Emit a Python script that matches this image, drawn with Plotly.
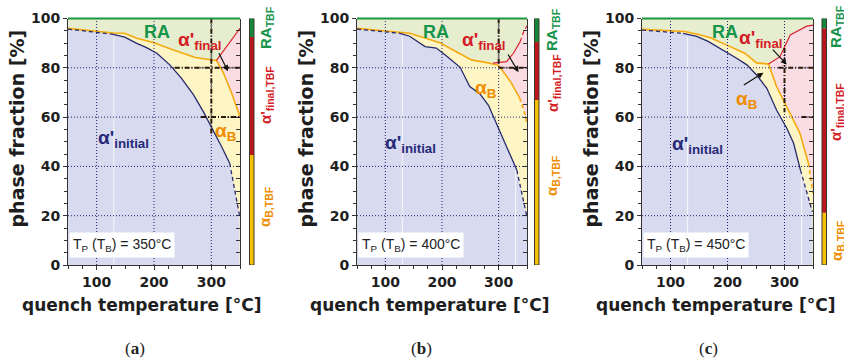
import numpy as np
import plotly.graph_objects as go

# ---------------- data ----------------
X_RANGE = [50, 350]
Y_RANGE = [0, 100]
X_TICKS = [100, 200, 300]
Y_TICKS = [0, 20, 40, 60, 80, 100]
GRID_X = [100, 200, 300]
GRID_Y = [20, 40, 60, 80]
TP_TB = [350, 400, 450]
PANEL_TAGS = ["a", "b", "c"]

# alpha'_initial boundary (navy)
navy_x_a = [50, 129, 149, 170, 187, 205, 228, 248, 269, 286, 303, 318, 332, 349]
navy_y_a = [95.7, 93.6, 92.4, 89.9, 88.2, 85.9, 81.1, 75.7, 69.0, 62.2, 54.8, 48.0, 41.3, 20.3]
navy_x_b = [50, 126, 143, 170, 190, 208, 232, 249, 267, 282, 296, 314, 332, 350]
navy_y_b = [95.7, 94.0, 92.8, 88.6, 88.0, 84.8, 80.2, 72.4, 69.4, 64.8, 57.4, 48.5, 38.5, 19.5]
navy_x_c = [50, 122, 146, 166, 193, 216, 234, 251, 269, 286, 304, 316, 328, 349]
navy_y_c = [95.3, 94.0, 92.7, 90.7, 87.2, 83.9, 81.2, 77.1, 71.7, 62.9, 55.5, 49.4, 38.5, 21.5]

# alpha_B upper boundary (orange)
orange_x_a = [50, 129, 149, 170, 199, 234, 272, 309, 320, 335, 350]
orange_y_a = [96.0, 94.1, 94.0, 92.0, 90.3, 87.2, 84.2, 83.0, 78.5, 70.0, 60.2]
orange_x_b = [50, 126, 143, 173, 196, 226, 252, 279, 300, 322, 337, 346, 350]
orange_y_b = [96.0, 94.5, 94.0, 91.9, 90.2, 86.4, 83.2, 82.1, 81.0, 74.0, 67.8, 61.5, 57.0]
orange_x_c = [50, 125, 146, 169, 199, 231, 251, 272, 286, 304, 327, 342, 350]
orange_y_c = [95.6, 94.7, 93.7, 92.3, 89.2, 85.8, 82.0, 81.5, 72.4, 64.3, 53.5, 41.3, 29.0]

# alpha'_final upper boundary (red)
red_x_a = [309, 326, 338, 350]
red_y_a = [83.0, 88.5, 92.5, 96.0]
red_x_b = [290, 314, 326, 338, 344, 350]
red_y_b = [81.9, 82.5, 85.9, 90.6, 94.6, 97.0]
red_x_c = [272, 292, 310, 339, 350]
red_y_c = [81.5, 84.5, 93.3, 96.9, 97.3]

# phase fractions after full bainitic transformation (side bars)
TBF_ALPHA_B = [44.6, 66.9, 21.2]
TBF_ALPHA_FINAL = [47.9, 23.6, 74.8]
TBF_RA = [7.5, 9.5, 4.0]

NAVY = [(navy_x_a, navy_y_a), (navy_x_b, navy_y_b), (navy_x_c, navy_y_c)]
ORANGE = [(orange_x_a, orange_y_a), (orange_x_b, orange_y_b), (orange_x_c, orange_y_c)]
RED = [(red_x_a, red_y_a), (red_x_b, red_y_b), (red_x_c, red_y_c)]

# ---------------- styles / layout geometry ----------------
W, H = 844, 359
PLOT_X_PX = [(68, 240), (357, 527), (642, 813)]
PLOT_Y_PX = (18.5, 265)
BAR_X_PX = [(249.5, 254), (534.5, 539), (822, 826.5)]
BAR_LABEL_X_PX = [266, 553, 837]
BAR_LABEL_Y_PX = [(28, 95, 207), (30, 83, 176), (27, 112, 241)]
PANEL_TAG_X_PX = [135, 421, 708]

# solid index ranges (outside: dashed)
NAVY_SOLID = [(1, 12), (1, 12), (1, 12)]
ORANGE_SOLID = [(0, 10), (0, 10), (0, 11)]
RED_SOLID = [(0, 3), (0, 3), (0, 4)]

# label positions in data coords
LBL_RA = [(206, 94.6), (189, 94.6), (196, 94.6)]
LBL_AF = [(280, 91.0), (274, 91.0), (259, 91.5)]
LBL_AB = [(324, 54.0), (277, 71.5), (234, 67.0)]
LBL_AI = [(146, 51.0), (145, 49.0), (147, 48.5)]
ARROWS = [
    [((312, 86.5), (329, 78.6))],
    [((315, 86.0), (335, 78.2))],
    [((277, 88.0), (304, 81.3)), ((226, 72.6), (263, 78.0))],
]
HEAVY = [
    [((300, 100), (300, 53)), ((236, 80), (350, 80)), ((282, 60), (350, 60))],
    [((300, 100), (300, 81.5)), ((300, 80), (350, 80))],
    [((300, 88), (300, 62)), ((289, 80), (350, 80)), ((330, 60), (350, 60))],
]
REF_SHOW = [[130], [130, 330], [130, 330]]

C_LAV = "#d8daef"
C_YEL = "#fdf5c3"
C_GRN = "#e6eecf"
C_PNK = "#f9dde2"
C_NAVY = "#272b6e"
C_ORG = "#f5a90f"
C_RED = "#dc2230"
C_TOPG = "#1d9640"
L_GRN = "#15944a"
L_RED = "#d41c26"
L_ORG = "#f08c00"
L_NAVY = "#262a78"
BAR_G = "#13883c"
BAR_R = "#be141e"
BAR_Y = "#f5c000"
AX_C = "#333333"
GRID_C = "#1c2070"

SANS = "DejaVu Sans"
LSANS = "Liberation Sans"

fig = go.Figure()
shapes = []
annots = []


def px2px(xpx):
    return xpx / W


def py2p(ypx):
    return 1 - ypx / H


def add_seg_line(xs, ys, xa, ya, color, width, solid):
    i0, i1 = solid
    n = len(xs)
    segs = []
    if i0 > 0:
        segs.append((xs[: i0 + 1], ys[: i0 + 1], "4px,3px"))
    segs.append((xs[i0: i1 + 1], ys[i0: i1 + 1], "solid"))
    if i1 < n - 1:
        segs.append((xs[i1:], ys[i1:], "4px,3px"))
    for sx, sy, d in segs:
        fig.add_trace(go.Scatter(x=sx, y=sy, mode="lines", xaxis=xa, yaxis=ya,
                                 line=dict(color=color, width=width, dash=d),
                                 hoverinfo="skip", showlegend=False))


layout = dict()
for k in range(3):
    n = k + 1
    xa = "x" if n == 1 else f"x{n}"
    ya = "y" if n == 1 else f"y{n}"
    xkey = "xaxis" if n == 1 else f"xaxis{n}"
    ykey = "yaxis" if n == 1 else f"yaxis{n}"
    rkey = f"yaxis{n + 3}"
    x0p, x1p = PLOT_X_PX[k]
    dom_x = [px2px(x0p), px2px(x1p)]
    dom_y = [py2p(PLOT_Y_PX[1]), py2p(PLOT_Y_PX[0])]

    nx, ny = NAVY[k]
    ox, oy = ORANGE[k]
    rx, ry = RED[k]

    # fills
    fig.add_trace(go.Scatter(x=rx, y=ry, mode="lines", fill="tozeroy", fillcolor=C_PNK,
                             line=dict(width=0), xaxis=xa, yaxis=ya, hoverinfo="skip", showlegend=False))
    fig.add_trace(go.Scatter(x=ox, y=oy, mode="lines", fill="tozeroy", fillcolor=C_YEL,
                             line=dict(width=0), xaxis=xa, yaxis=ya, hoverinfo="skip", showlegend=False))
    fig.add_trace(go.Scatter(x=nx, y=ny, mode="lines", fill="tozeroy", fillcolor=C_LAV,
                             line=dict(width=0), xaxis=xa, yaxis=ya, hoverinfo="skip", showlegend=False))
    # thin white reference lines
    for rxv in REF_SHOW[k]:
        top = float(np.interp(rxv, nx, ny))
        fig.add_trace(go.Scatter(x=[rxv, rxv], y=[0, top - 1], mode="lines",
                                 line=dict(color="rgba(255,255,255,0.85)", width=1),
                                 xaxis=xa, yaxis=ya, hoverinfo="skip", showlegend=False))

    # grid (drawn over fills)
    for gx in GRID_X:
        shapes.append(dict(type="line", xref=xa, yref=ya, x0=gx, x1=gx, y0=Y_RANGE[0], y1=Y_RANGE[1],
                           line=dict(color=GRID_C, width=1, dash="1px,2px"), layer="above"))
    for gy in GRID_Y:
        shapes.append(dict(type="line", xref=xa, yref=ya, x0=X_RANGE[0], x1=X_RANGE[1], y0=gy, y1=gy,
                           line=dict(color=GRID_C, width=1, dash="1px,2px"), layer="above"))
    for (hx0, hy0), (hx1, hy1) in HEAVY[k]:
        shapes.append(dict(type="line", xref=xa, yref=ya, x0=hx0, x1=hx1, y0=hy0, y1=hy1,
                           line=dict(color="#2a1a0c", width=2, dash="5px,2px,1px,2px"), layer="above"))

    # lines
    add_seg_line(ox, oy, xa, ya, C_ORG, 1.6, ORANGE_SOLID[k])
    add_seg_line(rx, ry, xa, ya, C_RED, 1.2, RED_SOLID[k])
    add_seg_line(nx, ny, xa, ya, C_NAVY, 1.3, NAVY_SOLID[k])

    # top RA line
    shapes.append(dict(type="line", xref=f"{xa} domain", yref=f"{ya} domain", x0=0, x1=1, y0=1, y1=1,
                       line=dict(color=C_TOPG, width=2), layer="above"))

    # side bar (TBF fractions)
    b0, b1 = BAR_X_PX[k]
    segs = [(0, TBF_ALPHA_B[k], BAR_Y),
            (TBF_ALPHA_B[k], TBF_ALPHA_B[k] + TBF_ALPHA_FINAL[k], BAR_R),
            (TBF_ALPHA_B[k] + TBF_ALPHA_FINAL[k], 100, BAR_G)]
    for s0, s1, c in segs:
        shapes.append(dict(type="rect", xref="paper", yref=ya, x0=px2px(b0), x1=px2px(b1), y0=s0, y1=s1,
                           fillcolor=c, line=dict(width=0), layer="above"))
    shapes.append(dict(type="rect", xref="paper", yref=ya, x0=px2px(b0), x1=px2px(b1), y0=0, y1=100,
                       fillcolor="rgba(0,0,0,0)", line=dict(width=1, color="#3a3a2a"), layer="above"))
    lx = px2px(BAR_LABEL_X_PX[k])
    ly = BAR_LABEL_Y_PX[k]
    for txt, col, yy in [("RA<sub>TBF</sub>", L_GRN, ly[0]),
                         ("α'<sub>final,TBF</sub>", L_RED, ly[1]),
                         ("α<sub>B,TBF</sub>", L_ORG, ly[2])]:
        annots.append(dict(xref="paper", yref="paper", x=lx, y=py2p(yy), text=txt, textangle=-90,
                           showarrow=False, xanchor="center", yanchor="middle",
                           font=dict(family=LSANS, size=15, color=col, weight="bold")))

    # labels inside plot
    annots.append(dict(xref=xa, yref=ya, x=LBL_RA[k][0], y=LBL_RA[k][1], text="RA", showarrow=False,
                       xanchor="center", yanchor="middle",
                       font=dict(family=LSANS, size=18, color=L_GRN, weight="bold")))
    annots.append(dict(xref=xa, yref=ya, x=LBL_AF[k][0], y=LBL_AF[k][1], text="α'<sub>final</sub>",
                       showarrow=False, xanchor="center", yanchor="middle",
                       font=dict(family=LSANS, size=19, color=L_RED, weight="bold")))
    annots.append(dict(xref=xa, yref=ya, x=LBL_AB[k][0], y=LBL_AB[k][1], text="α<sub>B</sub>",
                       showarrow=False, xanchor="center", yanchor="middle",
                       font=dict(family=LSANS, size=19, color=L_ORG, weight="bold")))
    annots.append(dict(xref=xa, yref=ya, x=LBL_AI[k][0], y=LBL_AI[k][1], text="α'<sub>initial</sub>",
                       showarrow=False, xanchor="center", yanchor="middle",
                       font=dict(family=LSANS, size=19, color=L_NAVY, weight="bold")))
    for (tx, ty), (hx, hy) in ARROWS[k]:
        annots.append(dict(xref=xa, yref=ya, axref=xa, ayref=ya, x=hx, y=hy, ax=tx, ay=ty, text="",
                           showarrow=True, arrowhead=2, arrowsize=1, arrowwidth=1.2, arrowcolor="#111"))

    # temperature box
    annots.append(dict(xref=xa, yref=ya, x=51.5, y=2.8, xanchor="left", yanchor="bottom",
                       text=f"T<sub>P</sub> (T<sub>B</sub>) = {TP_TB[k]}°C", showarrow=False,
                       bgcolor="white", borderpad=3,
                       font=dict(family=LSANS, size=14, color="#222")))

    # axis titles and panel tag
    annots.append(dict(xref="paper", yref="paper", x=px2px(x0p - 51), y=py2p(128.5),
                       xanchor="center", yanchor="middle",
                       text="phase fraction [%]", textangle=-90, showarrow=False,
                       font=dict(family=SANS, size=19, color="#1e1e1e", weight="bold")))
    annots.append(dict(xref="paper", yref="paper", x=px2px((x0p + x1p) / 2 - 12), y=py2p(305),
                       xanchor="center", yanchor="middle",
                       text="quench temperature [°C]", showarrow=False,
                       font=dict(family=SANS, size=17, color="#1e1e1e", weight="bold")))
    annots.append(dict(xref="paper", yref="paper", x=px2px(PANEL_TAG_X_PX[k]), y=py2p(348),
                       xanchor="center", yanchor="middle",
                       text=f"(<b>{PANEL_TAGS[k]}</b>)", showarrow=False,
                       font=dict(family="Liberation Serif", size=17, color="#222")))

    layout[xkey] = dict(domain=dom_x, range=X_RANGE, anchor=ya, tickmode="array", tickvals=X_TICKS,
                        ticks="outside", ticklen=4, tickcolor=AX_C, showline=True, linecolor=AX_C,
                        linewidth=1, showgrid=False, zeroline=False,
                        tickfont=dict(family=SANS, size=14, color="#1e1e1e", weight="bold"),
                        minor=dict(tickmode="linear", tick0=50, dtick=25, ticks="outside", ticklen=3,
                                   tickcolor=AX_C, showgrid=False))
    layout[ykey] = dict(domain=dom_y, range=Y_RANGE, anchor=xa, tickmode="array", tickvals=Y_TICKS,
                        ticks="outside", ticklen=4, tickcolor=AX_C, showline=True, linecolor=AX_C,
                        linewidth=1, showgrid=False, zeroline=False,
                        tickfont=dict(family=SANS, size=14, color="#1e1e1e", weight="bold"),
                        minor=dict(tickmode="linear", tick0=0, dtick=5, ticks="outside", ticklen=3,
                                   tickcolor=AX_C, showgrid=False))
    layout[rkey] = dict(overlaying=ya, anchor=xa, side="right", range=Y_RANGE, tickmode="linear",
                        tick0=0, dtick=5, ticks="inside", ticklen=4, tickcolor=AX_C,
                        showticklabels=False, showgrid=False, zeroline=False, showline=True,
                        linecolor=AX_C, linewidth=1)
    # dummy trace so overlay axis is drawn
    fig.add_trace(go.Scatter(x=[None], y=[None], xaxis=xa, yaxis=f"y{n + 3}", showlegend=False,
                             hoverinfo="skip"))

fig.update_layout(**layout)
fig.update_layout(width=W, height=H, margin=dict(l=0, r=0, t=0, b=0), template="none",
                  paper_bgcolor="white", plot_bgcolor=C_GRN, showlegend=False,
                  shapes=shapes, annotations=annots)
fig.write_html("out.html")
